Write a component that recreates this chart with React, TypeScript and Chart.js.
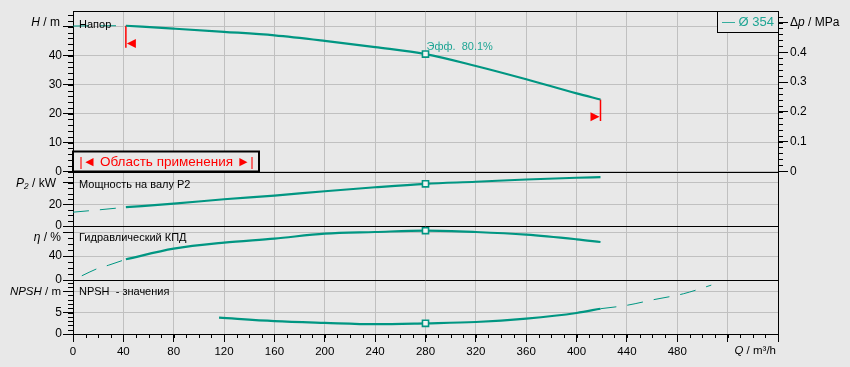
import { useEffect, useRef } from 'react';
import { Chart, registerables } from 'chart.js';

Chart.register(...registerables);

// ---------- data ----------
const Q_MIN = 42; // start of application range (m³/h)
const Q_MAX = 419; // end of application range (m³/h)
const Q_OP = 280; // duty point
const EFF_LABEL = 'Эфф.  80.1%';
const IMPELLER_LABEL = '— Ø 354';
const RANGE_LABEL = '|◄ Область применения ►|';

const H_Q = [0, 20, 42, 80, 120, 160, 200, 240, 280, 320, 360, 400, 419];
const H_VAL = [50.3, 50.4, 50.4, 49.4, 48.3, 47.1, 45.2, 43.0, 40.6, 36.5, 31.9, 27.0, 24.9];

const P2_Q = [0, 20, 42, 80, 120, 160, 200, 240, 280, 320, 360, 400, 419];
const P2_VAL = [12.8, 14.9, 17.4, 20.7, 24.8, 28.2, 32.2, 35.9, 39.1, 41.0, 43.1, 44.7, 45.3];

const ETA_Q = [7, 19, 28, 42, 80, 120, 160, 200, 240, 280, 320, 360, 400, 419];
const ETA_VAL = [7.0, 18.7, 24.5, 34.5, 52.2, 62.3, 69.0, 77.3, 80.0, 82.3, 80.0, 75.6, 67.8, 63.3];

const NPSH_Q = [116, 160, 200, 240, 280, 320, 360, 400, 419, 440, 461, 485, 507];
const NPSH_VAL = [3.8, 3.0, 2.6, 2.3, 2.5, 2.8, 3.6, 4.9, 5.9, 6.7, 8.0, 9.4, 11.4];

const RANGE_START_H = [50.4, 42.8];
const RANGE_END_H = [24.9, 17.5];
const RANGE_ARROW_H = [44.3, 18.9];

const Q_TICKS = [0, 40, 80, 120, 160, 200, 240, 280, 320, 360, 400, 440, 480, 520, 560];
const Q_LABEL_MAX = 480;
const H_TICKS = [0, 10, 20, 30, 40, 50];
const DP_TICKS = [0, 0.1, 0.2, 0.3, 0.4, 0.5];
const P2_TICKS = [0, 20, 40];
const ETA_TICKS = [0, 40, 80];
const NPSH_TICKS = [0, 5, 10];

// ---------- styling ----------
const BG = '#e8e8e8';
const TEAL = '#009682';
const TEAL_TEXT = '#1fa594';
const RED = '#ff0000';
const GRID = '#c0c0c0';
const FONT = "'Liberation Sans', Arial, sans-serif";
const FS = 11;

type Pt = { x: number; y: number };

function split(qs: number[], vs: number[]) {
  const pts: Pt[] = qs.map((q, i) => ({ x: q, y: vs[i] }));
  return {
    before: pts.filter((p) => p.x <= Q_MIN),
    main: pts.filter((p) => p.x >= Q_MIN && p.x <= Q_MAX),
    after: pts.filter((p) => p.x >= Q_MAX),
  };
}

function curveDatasets(qs: number[], vs: number[], axis: string) {
  const s = split(qs, vs);
  const thin = {
    borderColor: TEAL,
    borderWidth: 1,
    borderDash: [16, 11],
    pointRadius: 0,
    cubicInterpolationMode: 'monotone' as const,
    yAxisID: axis,
  };
  const out: any[] = [];
  if (s.before.length > 1) out.push({ ...thin, data: s.before });
  if (s.after.length > 1) out.push({ ...thin, data: s.after });
  out.push({
    data: s.main,
    yAxisID: axis,
    borderColor: TEAL,
    borderWidth: 2.2,
    cubicInterpolationMode: 'monotone' as const,
    pointStyle: 'rect',
    pointRadius: (c: any) => (c.raw && c.raw.x === Q_OP ? 4.3 : 0),
    pointBorderWidth: 1.6,
    pointBorderColor: TEAL,
    pointBackgroundColor: '#f4f4f4',
  });
  return out;
}

function setTicks(values: number[]) {
  return (s: any) => {
    s.ticks = values.map((v) => ({ value: v }));
  };
}

function drawParts(ctx: CanvasRenderingContext2D, parts: [string, boolean][], xRight: number, y: number, size: number) {
  let total = 0;
  for (const [t, it] of parts) {
    ctx.font = `${it ? 'italic ' : ''}${size}px ${FONT}`;
    total += ctx.measureText(t).width;
  }
  let x = xRight - total;
  ctx.textAlign = 'left';
  ctx.textBaseline = 'middle';
  for (const [t, it] of parts) {
    ctx.font = `${it ? 'italic ' : ''}${size}px ${FONT}`;
    ctx.fillText(t, x, y);
    x += ctx.measureText(t).width;
  }
}

const decor = {
  id: 'decor',
  beforeDraw(chart: any) {
    const ctx = chart.ctx;
    ctx.save();
    ctx.fillStyle = BG;
    ctx.fillRect(0, 0, chart.width, chart.height);
    ctx.restore();
  },
  afterDraw(chart: any) {
    const ctx: CanvasRenderingContext2D = chart.ctx;
    const ca = chart.chartArea;
    const sx = chart.scales.x;
    const yH = chart.scales.yH;
    const yP = chart.scales.yP2;
    const yE = chart.scales.yEta;
    const yN = chart.scales.yNpsh;
    const yD = chart.scales.yDp;
    ctx.save();
    const r = (v: number) => Math.round(v) + 0.5;

    // panel frame lines
    ctx.strokeStyle = '#000';
    ctx.lineWidth = 1;
    for (const y of [ca.top, yH.bottom, yP.bottom, yE.bottom]) {
      ctx.beginPath();
      ctx.moveTo(ca.left, r(y));
      ctx.lineTo(ca.right, r(y));
      ctx.stroke();
    }

    // minor ticks
    const minor = (scale: any, step: number, from: number, to: number, side: 'l' | 'r', len: number) => {
      for (let v = from; v <= to + 1e-9; v += step) {
        const y = r(scale.getPixelForValue(v));
        ctx.beginPath();
        if (side === 'l') {
          ctx.moveTo(ca.left - len, y);
          ctx.lineTo(ca.left, y);
        } else {
          ctx.moveTo(ca.right, y);
          ctx.lineTo(ca.right + len, y);
        }
        ctx.stroke();
      }
    };
    minor(yH, 2, 0, 54, 'l', 5);
    minor(yP, 5, 0, 50, 'l', 5);
    minor(yE, 10, 0, 90, 'l', 5);
    minor(yN, 1, 0, 12, 'l', 5);
    minor(yD, 0.02, 0, 0.52, 'r', 5);
    for (let q = 0; q < 560; q += 10) {
      const x = r(sx.getPixelForValue(q));
      ctx.beginPath();
      ctx.moveTo(x, ca.bottom);
      ctx.lineTo(x, ca.bottom + 4);
      ctx.stroke();
    }

    // axis titles
    ctx.fillStyle = '#000';
    drawParts(ctx, [['H', true], [' / m', false]], 60, yH.getPixelForValue(51.6), 12);
    drawParts(ctx, [['P₂', true], [' / kW', false]], 56, yP.getPixelForValue(39.2), 12);
    drawParts(ctx, [['η', true], [' / %', false]], 61, yE.getPixelForValue(70), 12);
    drawParts(ctx, [['NPSH', true], [' / m', false]], 61, yN.getPixelForValue(9.8), 11.5);
    drawParts(ctx, [['Q', true], [' / m³/h', false]], 776, 351, 11.5);
    // right axis title
    {
      ctx.font = `12px ${FONT}`;
      const x0 = ca.right + 12;
      const y = yD.getPixelForValue(0.5);
      ctx.textAlign = 'left';
      ctx.textBaseline = 'middle';
      ctx.fillText('Δ', x0, y);
      let x = x0 + ctx.measureText('Δ').width;
      ctx.font = `italic 12px ${FONT}`;
      ctx.fillText('p', x, y);
      x += ctx.measureText('p').width;
      ctx.font = `12px ${FONT}`;
      ctx.fillText(' / MPa', x, y);
    }

    // panel labels
    ctx.font = `11px ${FONT}`;
    ctx.textAlign = 'left';
    ctx.textBaseline = 'middle';
    ctx.fillStyle = '#000';
    ctx.fillText('Напор', ca.left + 6, yH.top + 13.5);
    ctx.fillText('Мощность на валу P2', ca.left + 6, yP.top + 13.5);
    ctx.fillText('Гидравлический КПД', ca.left + 6, yE.top + 12);
    ctx.fillText('NPSH  - значения', ca.left + 6, yN.top + 12);

    // efficiency label at duty point
    {
      const px = sx.getPixelForValue(Q_OP);
      const hIdx = H_Q.indexOf(Q_OP);
      const py = yH.getPixelForValue(H_VAL[hIdx]);
      ctx.font = `11px ${FONT}`;
      ctx.fillStyle = TEAL_TEXT;
      ctx.textBaseline = 'middle';
      ctx.fillText(EFF_LABEL, px + 1, py - 7);
    }

    // application-range arrows
    ctx.fillStyle = RED;
    {
      const px = sx.getPixelForValue(Q_MIN);
      const py = yH.getPixelForValue(RANGE_ARROW_H[0]);
      ctx.beginPath();
      ctx.moveTo(px + 1, py);
      ctx.lineTo(px + 10, py - 4.5);
      ctx.lineTo(px + 10, py + 4.5);
      ctx.closePath();
      ctx.fill();
    }
    {
      const px = sx.getPixelForValue(Q_MAX);
      const py = yH.getPixelForValue(RANGE_ARROW_H[1]);
      ctx.beginPath();
      ctx.moveTo(px - 1, py);
      ctx.lineTo(px - 10, py - 4.5);
      ctx.lineTo(px - 10, py + 4.5);
      ctx.closePath();
      ctx.fill();
    }

    // legend box
    {
      const w = 61;
      const h = 21;
      const x0 = ca.right - w;
      const y0 = ca.top;
      ctx.fillStyle = BG;
      ctx.fillRect(x0, y0, w, h);
      ctx.strokeStyle = '#000';
      ctx.lineWidth = 1;
      ctx.strokeRect(r(x0), r(y0), w, h);
      ctx.font = `13px ${FONT}`;
      ctx.fillStyle = TEAL_TEXT;
      ctx.textAlign = 'center';
      ctx.textBaseline = 'middle';
      ctx.fillText(IMPELLER_LABEL, x0 + w / 2 + 0.5, y0 + h / 2 + 0.5);
    }

    // application range box
    {
      const x0 = ca.left;
      const y1 = yH.bottom;
      const w = 186;
      const h = 20;
      ctx.fillStyle = BG;
      ctx.fillRect(x0, y1 - h, w, h);
      ctx.strokeStyle = '#000';
      ctx.lineWidth = 2;
      ctx.strokeRect(x0, y1 - h, w, h);
      ctx.font = `13.5px ${FONT}`;
      ctx.fillStyle = RED;
      ctx.textAlign = 'center';
      ctx.textBaseline = 'middle';
      ctx.fillText(RANGE_LABEL, x0 + w / 2 + 0.5, y1 - h / 2 + 0.5);
    }
    ctx.restore();
  },
};

export default function App() {
  const ref = useRef<HTMLCanvasElement>(null);
  useEffect(() => {
    document.body.style.margin = '0';
    document.body.style.background = BG;
    const canvas = ref.current!;
    Chart.defaults.font.family = FONT;

    const datasets: any[] = [
      ...curveDatasets(H_Q, H_VAL, 'yH'),
      ...curveDatasets(P2_Q, P2_VAL, 'yP2'),
      ...curveDatasets(ETA_Q, ETA_VAL, 'yEta'),
      ...curveDatasets(NPSH_Q, NPSH_VAL, 'yNpsh'),
      {
        data: [{ x: Q_MIN, y: RANGE_START_H[0] }, { x: Q_MIN, y: RANGE_START_H[1] }],
        yAxisID: 'yH',
        borderColor: RED,
        borderWidth: 1.5,
        pointRadius: 0,
      },
      {
        data: [{ x: Q_MAX, y: RANGE_END_H[0] }, { x: Q_MAX, y: RANGE_END_H[1] }],
        yAxisID: 'yH',
        borderColor: RED,
        borderWidth: 1.5,
        pointRadius: 0,
      },
    ];

    const tickFont = { family: FONT, size: 12 };
    const xTickFont = { family: FONT, size: 11.5 };
    const leftAxis = (min: number, max: number, weight: number, ticks: number[]) => ({
      type: 'linear',
      position: 'left',
      stack: 'left',
      stackWeight: weight,
      min,
      max,
      afterBuildTicks: setTicks(ticks),
      afterFit: (s: any) => {
        s.width = 73;
      },
      border: { color: '#000', width: 1 },
      grid: { color: GRID, lineWidth: 1, tickColor: '#000', tickLength: 10, drawTicks: true },
      ticks: {
        font: tickFont,
        color: '#000',
        padding: 1,
        autoSkip: false,
        callback: (v: number) => (v === ticks[ticks.length - 1] ? '' : String(v)),
      },
    });

    const chart = new Chart(canvas, {
      type: 'line',
      data: { datasets },
      plugins: [decor],
      options: {
        animation: false,
        responsive: false,
        events: [],
        layout: { padding: { top: 11, left: 0, right: 0, bottom: 0 } },
        plugins: { legend: { display: false }, tooltip: { enabled: false } },
        scales: {
          x: {
            type: 'linear',
            position: 'bottom',
            min: 0,
            max: 560,
            afterBuildTicks: setTicks(Q_TICKS),
            afterFit: (s: any) => {
              s.height = 33;
            },
            border: { color: '#000', width: 1 },
            grid: { color: GRID, lineWidth: 1, tickColor: '#000', tickLength: 8 },
            ticks: {
              font: xTickFont,
              color: '#000',
              padding: 3,
              maxRotation: 0,
              autoSkip: false,
              callback: (v: number) => (v <= Q_LABEL_MAX ? String(v) : ''),
            },
          },
          // stacked left axes are laid out bottom-up in definition order
          yNpsh: leftAxis(0, 12.6, 54, NPSH_TICKS),
          yEta: leftAxis(0, 90, 54, ETA_TICKS),
          yP2: leftAxis(0, 50.5, 54.5, P2_TICKS),
          yH: leftAxis(0, 55.5, 160.5, H_TICKS),
          yDp: {
            type: 'linear',
            position: 'right',
            min: -0.547,
            max: 0.5388,
            afterBuildTicks: setTicks(DP_TICKS),
            afterFit: (s: any) => {
              s.width = 72;
            },
            border: { color: '#000', width: 1 },
            grid: { drawOnChartArea: false, tickColor: '#000', tickLength: 10 },
            ticks: {
              font: tickFont,
              color: '#000',
              padding: 2,
              autoSkip: false,
              callback: (v: number) => (v > 0.45 ? '' : v === 0 ? '0' : v.toFixed(1)),
            },
          },
        },
      } as any,
    });
    return () => chart.destroy();
  }, []);

  return (
    <div style={{ width: 850, height: 367, background: BG }}>
      <canvas ref={ref} width={850} height={367} style={{ display: 'block', width: 850, height: 367 }} />
    </div>
  );
}
